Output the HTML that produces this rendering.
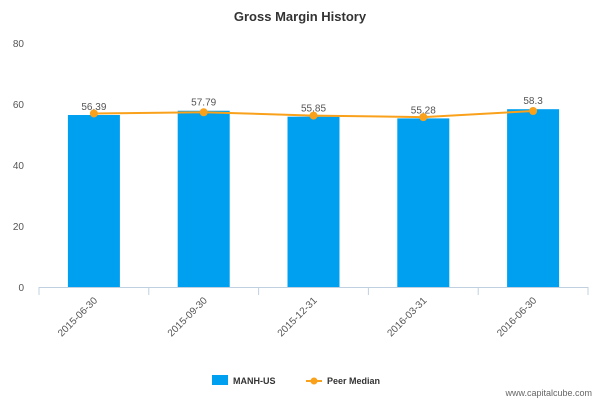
<!DOCTYPE html>
<html><head><meta charset="utf-8"><style>
body{margin:0;background:#fff;font-family:"Liberation Sans",sans-serif}
</style></head><body>
<svg id="c" width="600" height="400" xmlns="http://www.w3.org/2000/svg">
<text x="300" y="21" text-anchor="middle" font-size="13" font-weight="bold" fill="#333">Gross Margin History</text>
<g id="ax"></g><g id="bars"></g><g id="line"></g>
<g>
<rect x="212" y="375" width="16" height="10" fill="#00a0f0"/>
<text x="233" y="384" font-size="9" font-weight="bold" fill="#333">MANH-US</text>
<line x1="306" y1="381" x2="322" y2="381" stroke="#f9a11b" stroke-width="2"/>
<circle cx="314" cy="381" r="3.5" fill="#f9a11b"/>
<text x="327" y="384" font-size="9" font-weight="bold" fill="#333">Peer Median</text>
</g>
<text x="592" y="396" text-anchor="end" font-size="9" fill="#666">www.capitalcube.com</text>
</svg>
<script>
const categories=["2015-06-30","2015-09-30","2015-12-31","2016-03-31","2016-06-30"];
const companyValues=[56.39,57.79,55.85,55.28,58.3];
const companyLabels=["56.39","57.79","55.85","55.28","58.3"];
const peerValues=[56.9,57.3,56.2,55.7,57.7];
const yTicks=[0,20,40,60,80];
const NS="http://www.w3.org/2000/svg";
const x0=39,x1=588,yBase=287,yTop=43,yMax=80;
const bw=(x1-x0)/categories.length;
const y=v=>yBase-(v/yMax)*(yBase-yTop);
const xc=i=>x0+bw*(i+0.5);
function mk(t,a,p,txt){const e=document.createElementNS(NS,t);for(const k in a)e.setAttribute(k,a[k]);if(txt!==undefined)e.textContent=txt;p.appendChild(e);return e;}
const ax=document.getElementById('ax'),bars=document.getElementById('bars'),ln=document.getElementById('line');
yTicks.forEach(t=>{const e=mk('text',{x:24,y:y(t)+4,'text-anchor':'end','font-size':10,fill:'#555'},ax,t);

});
const axl=mk('line',{x1:x0,y1:yBase+0.5,x2:x1,y2:yBase+0.5,stroke:'#c0d0e0'},ax);


for(let i=0;i<=categories.length;i++){mk('line',{x1:x0+bw*i,y1:yBase,x2:x0+bw*i,y2:yBase+8,stroke:'#c0d0e0'},ax);}
categories.forEach((c,i)=>{const tx=xc(i)+4,ty=yBase+14;
const e=mk('text',{x:tx,y:ty,'text-anchor':'end','font-size':10,fill:'#555',transform:`rotate(-45 ${tx} ${ty})`},ax,c);


const b=mk('rect',{x:xc(i)-26,y:y(companyValues[i]),width:52,height:yBase-y(companyValues[i]),fill:'#00a0f0'},bars);


const l=mk('text',{x:xc(i),y:y(companyValues[i])-5,'text-anchor':'middle','font-size':10,fill:'#555'},bars,companyLabels[i]);

});
const pts=peerValues.map((v,i)=>xc(i)+','+y(v)).join(' ');
const pl=mk('polyline',{points:pts,fill:'none',stroke:'#f9a11b','stroke-width':2},ln);


peerValues.forEach((v,i)=>{const p=mk('circle',{cx:xc(i),cy:y(v),r:4,fill:'#f9a11b'},ln);

});
</script>
</body></html>
